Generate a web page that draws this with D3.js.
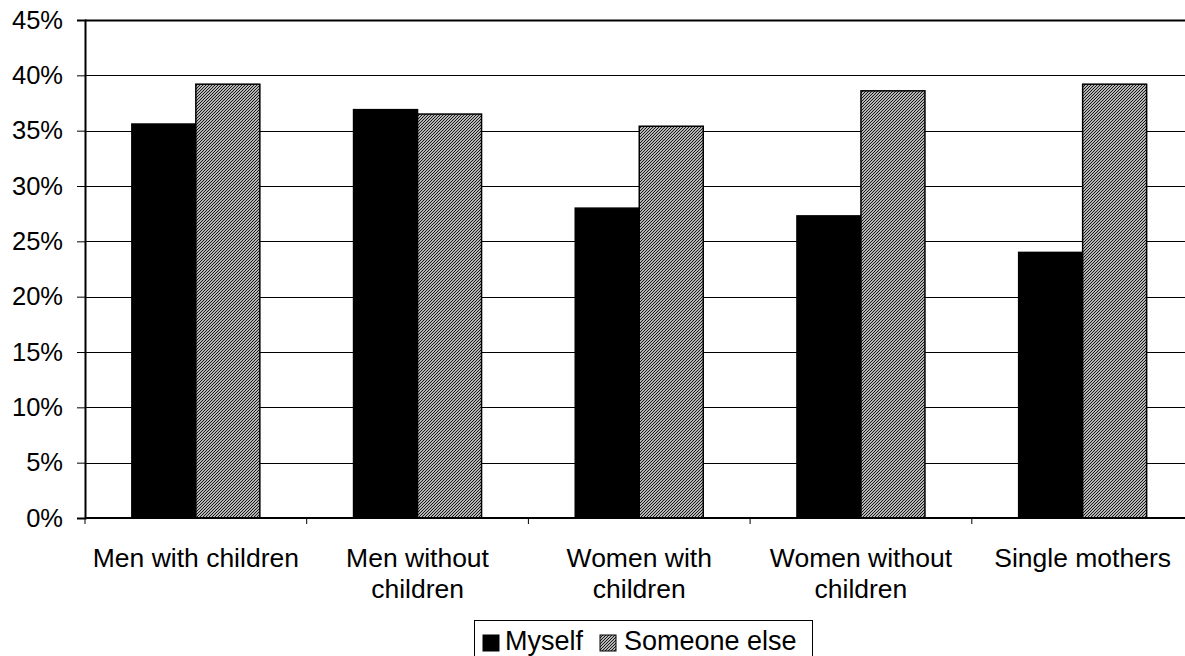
<!DOCTYPE html>
<html>
<head>
<meta charset="utf-8">
<script src="https://cdn.jsdelivr.net/npm/d3@7"></script>
<style>
  html, body { margin: 0; padding: 0; background: #fff; }
  svg { display: block; font-family: "Liberation Sans", Arial, sans-serif; }
</style>
</head>
<body>
<svg id="chart" width="1185" height="656"></svg>
<script>
// Share of respondents by who is responsible
const categories = [["Men with children"], ["Men without", "children"], ["Women with", "children"], ["Women without", "children"], ["Single mothers"]];
const seriesNames = ["Myself", "Someone else"];
const myself = [35.6, 36.9, 28.0, 27.3, 24.0];
const someoneElse = [39.2, 36.5, 35.4, 38.6, 39.2];
const yTicks = [0, 5, 10, 15, 20, 25, 30, 35, 40, 45];

const svg = d3.select("#chart");
const margin = { left: 85, top: 20 };
const plotW = 1108.5, plotH = 498;

// fine diagonal hatch for the second series
const defs = svg.append("defs");
const pat = defs.append("pattern")
  .attr("id", "hatch")
  .attr("patternUnits", "userSpaceOnUse")
  .attr("width", 3).attr("height", 3);
pat.append("rect").attr("width", 3).attr("height", 3).attr("fill", "#fff");
pat.append("path")
  .attr("d", "M-1,1 L1,-1 M0,3 L3,0 M2,4 L4,2")
  .attr("stroke", "#111").attr("stroke-width", 1.2);

const g = svg.append("g").attr("transform", `translate(${margin.left},${margin.top})`);

const x = d3.scaleBand().domain(d3.range(categories.length)).range([0, plotW]).paddingInner(0).paddingOuter(0);
const y = d3.scaleLinear().domain([0, 45]).range([plotH, 0]);
const inner = d3.scaleBand().domain([0, 1]).range([0, x.bandwidth()]).paddingInner(0).paddingOuter(0.732);

// horizontal gridlines
g.append("g").selectAll("line").data(yTicks).join("line")
  .attr("x1", 0).attr("x2", plotW)
  .attr("y1", d => Math.round(y(d)) + 0.5).attr("y2", d => Math.round(y(d)) + 0.5)
  .attr("stroke", "#000").attr("stroke-width", d => d === 45 ? 2 : 1);

// bars
const series = [myself, someoneElse];
series.forEach((vals, si) => {
  g.append("g").selectAll("rect").data(vals).join("rect")
    .attr("x", (d, i) => x(i) + inner(si))
    .attr("y", d => y(d))
    .attr("width", inner.bandwidth())
    .attr("height", d => plotH - y(d))
    .attr("fill", si === 0 ? "#000" : "url(#hatch)")
    .attr("stroke", "#000").attr("stroke-width", 1.5);
});

// y axis
const yAxis = d3.axisLeft(y).tickValues(yTicks).tickFormat(d => d + "%").tickSize(8).tickPadding(14);
const ya = g.append("g").call(yAxis);
ya.select(".domain").attr("stroke-width", 2);
ya.selectAll(".tick line").attr("stroke-width", 1);
ya.selectAll("text").attr("font-size", 25.5).attr("fill", "#000");

// x axis
const xa = g.append("g").attr("transform", `translate(0,${plotH})`);
xa.append("line").attr("x1", 0).attr("x2", plotW).attr("y1", 0).attr("y2", 0)
  .attr("stroke", "#000").attr("stroke-width", 2);
xa.selectAll("line.tk").data(d3.range(categories.length + 1)).join("line")
  .attr("class", "tk")
  .attr("x1", d => d * x.bandwidth()).attr("x2", d => d * x.bandwidth())
  .attr("y1", 0).attr("y2", 6).attr("stroke", "#000").attr("stroke-width", 1);
const labels = xa.selectAll("text").data(categories).join("text")
  .attr("x", (d, i) => x(i) + x.bandwidth() / 2)
  .attr("y", 49)
  .attr("text-anchor", "middle")
  .attr("font-size", 26.5)
  .attr("fill", "#000");
labels.each(function(lines) {
  d3.select(this).selectAll("tspan").data(lines).join("tspan")
    .attr("x", d3.select(this).attr("x"))
    .attr("dy", (d, j) => j === 0 ? 0 : 31)
    .text(d => d);
});

// legend
const leg = svg.append("g").attr("transform", "translate(474,620)");
leg.append("rect").attr("x", 0.5).attr("y", 0.5).attr("width", 338).attr("height", 45)
  .attr("fill", "#fff").attr("stroke", "#000").attr("stroke-width", 1);
const items = [{ name: seriesNames[0], fill: "#000", sx: 9, tx: 31 }, { name: seriesNames[1], fill: "url(#hatch)", sx: 126, tx: 150 }];
items.forEach(it => {
  leg.append("rect").attr("x", it.sx).attr("y", 15).attr("width", 16).attr("height", 16)
    .attr("fill", it.fill).attr("stroke", "#000").attr("stroke-width", 1);
  leg.append("text").attr("x", it.tx).attr("y", 29.5).attr("font-size", 27).attr("fill", "#000").text(it.name);
});
</script>
</body>
</html>
